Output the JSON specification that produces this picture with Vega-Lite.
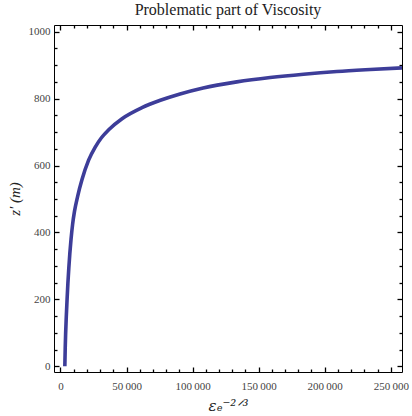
{
  "$schema": "https://vega.github.io/schema/vega-lite/v6.json",
  "width": 348,
  "height": 347,
  "autosize": "none",
  "padding": {"left": 54, "top": 25, "right": 10, "bottom": 44},
  "title": {"text": "Problematic part of Viscosity", "font": "Liberation Serif", "fontSize": 16, "fontWeight": "normal", "color": "#222222", "offset": 6},
  "data": {"values": [
    {"x": 3300, "z": 0}, {"x": 3600, "z": 55}, {"x": 3900, "z": 97}, {"x": 4400, "z": 148},
    {"x": 5000, "z": 200}, {"x": 5600, "z": 247}, {"x": 6300, "z": 293}, {"x": 7100, "z": 338},
    {"x": 8000, "z": 380}, {"x": 9200, "z": 425}, {"x": 10600, "z": 463}, {"x": 13000, "z": 508},
    {"x": 16300, "z": 558}, {"x": 21300, "z": 616}, {"x": 26300, "z": 655}, {"x": 31000, "z": 683},
    {"x": 36500, "z": 707}, {"x": 46600, "z": 740}, {"x": 61700, "z": 773}, {"x": 75600, "z": 795},
    {"x": 90500, "z": 814}, {"x": 108000, "z": 832}, {"x": 133500, "z": 850}, {"x": 158700, "z": 863},
    {"x": 184000, "z": 873}, {"x": 209200, "z": 881}, {"x": 234500, "z": 887}, {"x": 258500, "z": 892}
  ]},
  "config": {
    "view": {"stroke": "black", "strokeWidth": 1},
    "locale": {"number": {"decimal": ".", "thousands": "\u2009", "grouping": [3], "currency": ["", ""]}},
    "axis": {"zindex": 1, "grid": false, "domain": false, "ticks": true, "tickColor": "#000000", "tickWidth": 1.3, "tickOpacity": 1, "labelFont": "Liberation Serif", "labelFontSize": 11, "labelColor": "#444444", "labelFlush": false, "labelOverlap": false, "titleFont": "Liberation Serif", "titleFontWeight": "normal", "titleColor": "#222222"}
  },
  "resolve": {"axis": {"x": "independent", "y": "independent"}},
  "layer": [
    {
      "mark": {"type": "line", "color": "#3d3d99", "strokeWidth": 3.6, "interpolate": "monotone", "clip": true},
      "encoding": {
        "x": {"field": "x", "type": "quantitative", "scale": {"domain": [-4900, 258500], "nice": false, "zero": false},
          "axis": {"orient": "bottom", "offset": -5, "tickSize": 5, "values": [0, 50000, 100000, 150000, 200000, 250000], "format": ",d", "labelPadding": 8, "title": "εₑ⁻²ᐟ³", "titleFont": "DejaVu Serif", "titleFontSize": 15, "titleFontStyle": "italic", "titlePadding": 7}},
        "y": {"field": "z", "type": "quantitative", "scale": {"domain": [-17, 1020], "nice": false, "zero": false},
          "axis": {"orient": "left", "offset": -5, "tickSize": 5, "values": [0, 200, 400, 600, 800, 1000], "format": "d", "labelPadding": 4, "title": "z′ (m)", "titleFontSize": 15, "titleFontStyle": "italic", "titlePadding": 6}}
      }
    },
    {
      "mark": {"type": "line", "opacity": 0},
      "encoding": {
        "x": {"field": "x", "type": "quantitative", "axis": {"orient": "bottom", "offset": -3, "tickSize": 3, "values": [10000, 20000, 30000, 40000, 60000, 70000, 80000, 90000, 110000, 120000, 130000, 140000, 160000, 170000, 180000, 190000, 210000, 220000, 230000, 240000], "labels": false, "title": null}},
        "y": {"field": "z", "type": "quantitative", "axis": {"orient": "left", "offset": -3, "tickSize": 3, "values": [50, 100, 150, 250, 300, 350, 450, 500, 550, 650, 700, 750, 850, 900, 950], "labels": false, "title": null}}
      }
    },
    {
      "mark": {"type": "line", "opacity": 0},
      "encoding": {
        "x": {"field": "x", "type": "quantitative", "axis": {"orient": "top", "offset": -5, "tickSize": 5, "values": [0, 50000, 100000, 150000, 200000, 250000], "labels": false, "title": null}},
        "y": {"field": "z", "type": "quantitative", "axis": {"orient": "right", "offset": -5, "tickSize": 5, "values": [0, 200, 400, 600, 800, 1000], "labels": false, "title": null}}
      }
    },
    {
      "mark": {"type": "line", "opacity": 0},
      "encoding": {
        "x": {"field": "x", "type": "quantitative", "axis": {"orient": "top", "offset": -3, "tickSize": 3, "values": [10000, 20000, 30000, 40000, 60000, 70000, 80000, 90000, 110000, 120000, 130000, 140000, 160000, 170000, 180000, 190000, 210000, 220000, 230000, 240000], "labels": false, "title": null}},
        "y": {"field": "z", "type": "quantitative", "axis": {"orient": "right", "offset": -3, "tickSize": 3, "values": [50, 100, 150, 250, 300, 350, 450, 500, 550, 650, 700, 750, 850, 900, 950], "labels": false, "title": null}}
      }
    }
  ]
}
